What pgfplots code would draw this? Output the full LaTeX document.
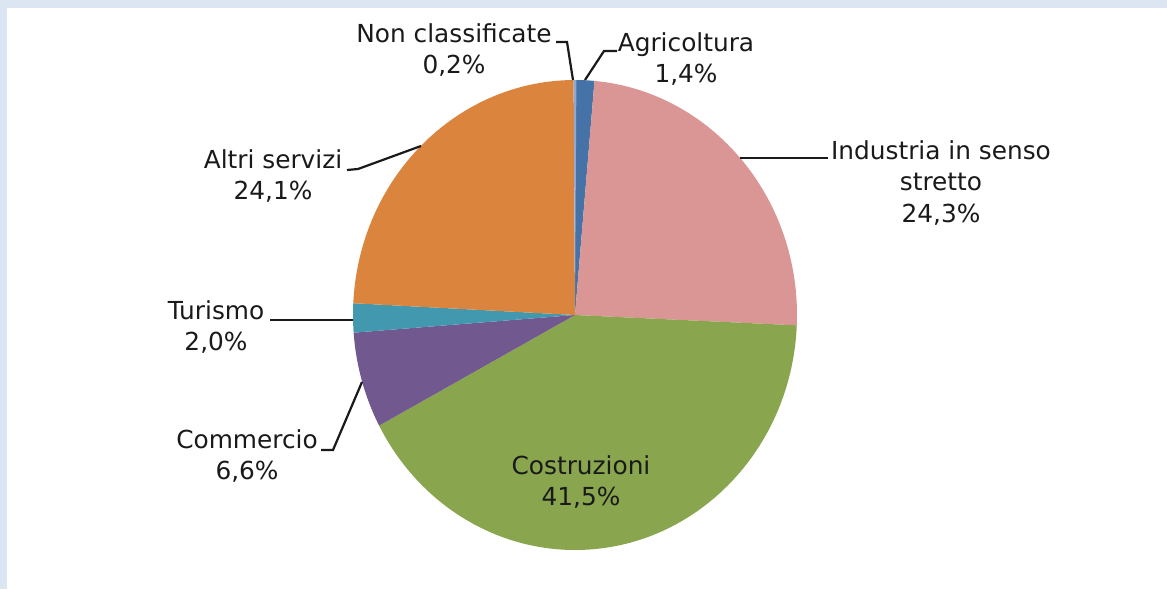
\documentclass[border=0pt]{standalone}
\usepackage{pgfplots}
\usepackage{pgfplotstable}
\pgfplotsset{compat=1.18}
\usepackage{fontspec}
\setmainfont{DejaVu Sans}

\definecolor{bgblue}{HTML}{DCE6F2}
\definecolor{cAgri}{HTML}{4572A7}
\definecolor{cInd}{HTML}{DA9694}
\definecolor{cCos}{HTML}{89A54E}
\definecolor{cCom}{HTML}{71588F}
\definecolor{cTur}{HTML}{4198AF}
\definecolor{cAltri}{HTML}{DB843D}
\definecolor{cNon}{HTML}{92A8CD}
\definecolor{txt}{HTML}{1A1A1A}

% slices clockwise from 12 o'clock
\pgfplotstableread[col sep=comma]{
label,pct,col
Agricoltura,1.4,cAgri
Industria in senso stretto,24.3,cInd
Costruzioni,41.5,cCos
Commercio,6.6,cCom
Turismo,2.0,cTur
Altri servizi,24.1,cAltri
Non classificate,0.2,cNon
}\piedata

\begin{document}
\begin{tikzpicture}
\begin{axis}[
    scale only axis,
    width=583.5pt, height=294.5pt,
    xmin=0, xmax=1167, ymin=0, ymax=589,
    y dir=reverse,
    hide axis,
    clip=false,
]
% page background
\fill[bgblue] (axis cs:0,0) rectangle (axis cs:1167,589);
\fill[white] (axis cs:7,8) rectangle (axis cs:1167,589);

% pie slices (ellipse: rx 222px, ry 235px)
\gdef\angA{90}
\pgfplotsforeachungrouped \i in {0,...,6} {
    \pgfplotstablegetelem{\i}{pct}\of{\piedata}\let\v\pgfplotsretval
    \pgfplotstablegetelem{\i}{col}\of{\piedata}\let\c\pgfplotsretval
    \pgfmathsetmacro\angB{\angA-3.6*\v}
    \edef\temp{\noexpand\fill[\c] (axis cs:575,315) -- ++(\angA:111pt and 117.5pt)
        arc[start angle=\angA, end angle=\angB, x radius=111pt, y radius=117.5pt] -- cycle;}
    \temp
    \global\let\angA\angB
}

% leader lines
\draw[txt, line width=1.1pt] (axis cs:556,42) -- (axis cs:567,42) -- (axis cs:573,80);
\draw[txt, line width=1.1pt] (axis cs:617,51) -- (axis cs:604,51) -- (axis cs:585,80);
\draw[txt, line width=1.1pt] (axis cs:828,158) -- (axis cs:740,158);
\draw[txt, line width=1.1pt] (axis cs:347,170) -- (axis cs:358,169) -- (axis cs:421,146);
\draw[txt, line width=1.1pt] (axis cs:270,320) -- (axis cs:353,320);
\draw[txt, line width=1.1pt] (axis cs:321,450) -- (axis cs:333,450) -- (axis cs:362,382);

% labels
\tikzset{lab/.style={align=center, text=txt, inner sep=0pt, font=\fontsize{12.4}{15.8}\selectfont}}
\node[lab] at (axis cs:454,50) {Non classificate\\0,2\%};
\node[lab] at (axis cs:686,59) {Agricoltura\\1,4\%};
\node[lab] at (axis cs:941,183) {Industria in senso\\stretto\\24,3\%};
\node[lab] at (axis cs:273,176) {Altri servizi\\24,1\%};
\node[lab] at (axis cs:216,327) {Turismo\\2,0\%};
\node[lab] at (axis cs:247,456) {Commercio\\6,6\%};
\node[lab] at (axis cs:581,482) {Costruzioni\\41,5\%};
\end{axis}
\end{tikzpicture}
\end{document}
